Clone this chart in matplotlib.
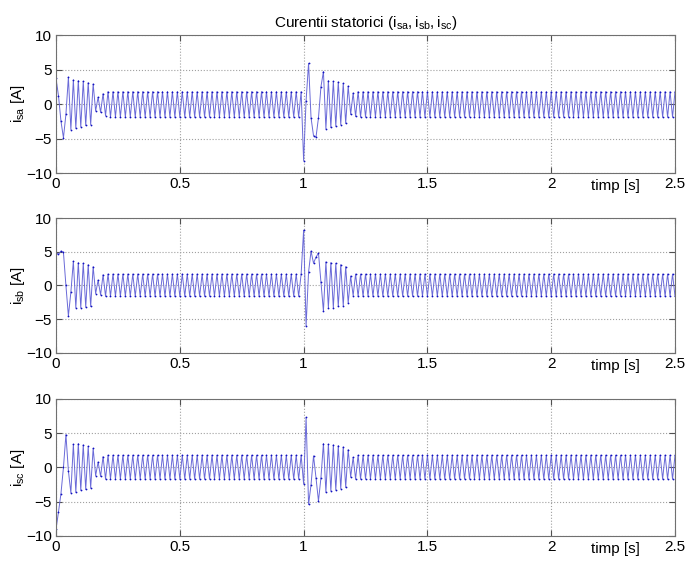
import numpy as np
import matplotlib
matplotlib.use("Agg")
import matplotlib.pyplot as plt

plt.rcParams['font.family'] = ['Liberation Sans', 'DejaVu Sans']
plt.rcParams['mathtext.fontset'] = 'custom'
plt.rcParams['mathtext.rm'] = 'Liberation Sans'
plt.rcParams['mathtext.it'] = 'Liberation Sans'

# time of each half-period extreme (0.01 s grid, 50 Hz)
t_ext = np.arange(251) * 0.01

# i_sa extremes, one value per 0.01 s
i_sa = [
    3.7, 1.2, -2.5, -4.9, -1.5, 3.9, -3.7, 3.5, -3.5, 3.4,
    -3.3, 3.3, -3.1, 3.1, -3.0, 2.9, -1.0, 1.0, -1.2, 1.5,
    -1.7, 1.8, -1.9, 1.8, -1.9, 1.8, -1.9, 1.8, -1.9, 1.8,
    -1.9, 1.8, -1.9, 1.8, -1.9, 1.8, -1.9, 1.8, -1.9, 1.8,
    -1.9, 1.8, -1.9, 1.8, -1.9, 1.8, -1.9, 1.8, -1.9, 1.8,
    -1.9, 1.8, -1.9, 1.8, -1.9, 1.8, -1.9, 1.8, -1.9, 1.8,
    -1.9, 1.8, -1.9, 1.8, -1.9, 1.8, -1.9, 1.8, -1.9, 1.8,
    -1.9, 1.8, -1.9, 1.8, -1.9, 1.8, -1.9, 1.8, -1.9, 1.8,
    -1.9, 1.8, -1.9, 1.8, -1.9, 1.8, -1.9, 1.8, -1.9, 1.8,
    -1.9, 1.8, -1.9, 1.8, -1.9, 1.8, -1.9, 1.8, -1.9, 1.8,
    -8.2, 0.5, 5.9, -2.0, -4.6, -4.8, -2.0, 2.5, 4.7, -3.6,
    3.4, -3.4, 3.3, -3.2, 3.2, -3.0, 3.0, -2.8, 2.6, -1.5,
    1.6, -1.8, 1.8, -1.9, 1.8, -1.9, 1.8, -1.9, 1.8, -1.9,
    1.8, -1.9, 1.8, -1.9, 1.8, -1.9, 1.8, -1.9, 1.8, -1.9,
    1.8, -1.9, 1.8, -1.9, 1.8, -1.9, 1.8, -1.9, 1.8, -1.9,
    1.8, -1.9, 1.8, -1.9, 1.8, -1.9, 1.8, -1.9, 1.8, -1.9,
    1.8, -1.9, 1.8, -1.9, 1.8, -1.9, 1.8, -1.9, 1.8, -1.9,
    1.8, -1.9, 1.8, -1.9, 1.8, -1.9, 1.8, -1.9, 1.8, -1.9,
    1.8, -1.9, 1.8, -1.9, 1.8, -1.9, 1.8, -1.9, 1.8, -1.9,
    1.8, -1.9, 1.8, -1.9, 1.8, -1.9, 1.8, -1.9, 1.8, -1.9,
    1.8, -1.9, 1.8, -1.9, 1.8, -1.9, 1.8, -1.9, 1.8, -1.9,
    1.8, -1.9, 1.8, -1.9, 1.8, -1.9, 1.8, -1.9, 1.8, -1.9,
    1.8, -1.9, 1.8, -1.9, 1.8, -1.9, 1.8, -1.9, 1.8, -1.9,
    1.8, -1.9, 1.8, -1.9, 1.8, -1.9, 1.8, -1.9, 1.8, -1.9,
    1.8, -1.9, 1.8, -1.9, 1.8, -1.9, 1.8, -1.9, 1.8, -1.9,
    1.8,
]

i_sb = [
    4.8, 4.6, 5.1, 4.9, 0.0, -4.5, -1.0, 3.6, -3.3, 3.4,
    -3.3, 3.3, -3.2, 3.1, -3.1, 2.8, -1.2, 0.8, -1.4, 1.6,
    -1.6, 1.7, -1.6, 1.7, -1.6, 1.7, -1.6, 1.7, -1.6, 1.7,
    -1.6, 1.7, -1.6, 1.7, -1.6, 1.7, -1.6, 1.7, -1.6, 1.7,
    -1.6, 1.7, -1.6, 1.7, -1.6, 1.7, -1.6, 1.7, -1.6, 1.7,
    -1.6, 1.7, -1.6, 1.7, -1.6, 1.7, -1.6, 1.7, -1.6, 1.7,
    -1.6, 1.7, -1.6, 1.7, -1.6, 1.7, -1.6, 1.7, -1.6, 1.7,
    -1.6, 1.7, -1.6, 1.7, -1.6, 1.7, -1.6, 1.7, -1.6, 1.7,
    -1.6, 1.7, -1.6, 1.7, -1.6, 1.7, -1.6, 1.7, -1.6, 1.7,
    -1.6, 1.7, -1.6, 1.7, -1.6, 1.7, -1.6, 1.7, -1.6, 1.7,
    8.2, -6.0, 2.0, 5.1, 3.3, 4.2, 4.8, 0.5, -3.8, 3.5,
    -3.3, 3.4, -3.3, 3.3, -3.1, 3.1, -3.0, 2.8, -2.6, 1.4,
    -1.5, 1.7, -1.6, 1.7, -1.6, 1.7, -1.6, 1.7, -1.6, 1.7,
    -1.6, 1.7, -1.6, 1.7, -1.6, 1.7, -1.6, 1.7, -1.6, 1.7,
    -1.6, 1.7, -1.6, 1.7, -1.6, 1.7, -1.6, 1.7, -1.6, 1.7,
    -1.6, 1.7, -1.6, 1.7, -1.6, 1.7, -1.6, 1.7, -1.6, 1.7,
    -1.6, 1.7, -1.6, 1.7, -1.6, 1.7, -1.6, 1.7, -1.6, 1.7,
    -1.6, 1.7, -1.6, 1.7, -1.6, 1.7, -1.6, 1.7, -1.6, 1.7,
    -1.6, 1.7, -1.6, 1.7, -1.6, 1.7, -1.6, 1.7, -1.6, 1.7,
    -1.6, 1.7, -1.6, 1.7, -1.6, 1.7, -1.6, 1.7, -1.6, 1.7,
    -1.6, 1.7, -1.6, 1.7, -1.6, 1.7, -1.6, 1.7, -1.6, 1.7,
    -1.6, 1.7, -1.6, 1.7, -1.6, 1.7, -1.6, 1.7, -1.6, 1.7,
    -1.6, 1.7, -1.6, 1.7, -1.6, 1.7, -1.6, 1.7, -1.6, 1.7,
    -1.6, 1.7, -1.6, 1.7, -1.6, 1.7, -1.6, 1.7, -1.6, 1.7,
    -1.6, 1.7, -1.6, 1.7, -1.6, 1.7, -1.6, 1.7, -1.6, 1.7,
    -1.6,
]

i_sc = [
    -9.0, -6.5, -3.8, 0.0, 4.8, -0.5, -3.7, 3.4, -3.6, 3.5,
    -3.3, 3.3, -3.2, 3.1, -3.0, 2.8, -1.2, 0.8, -1.3, 1.6,
    -1.7, 1.8, -1.7, 1.8, -1.7, 1.8, -1.7, 1.8, -1.7, 1.8,
    -1.7, 1.8, -1.7, 1.8, -1.7, 1.8, -1.7, 1.8, -1.7, 1.8,
    -1.7, 1.8, -1.7, 1.8, -1.7, 1.8, -1.7, 1.8, -1.7, 1.8,
    -1.7, 1.8, -1.7, 1.8, -1.7, 1.8, -1.7, 1.8, -1.7, 1.8,
    -1.7, 1.8, -1.7, 1.8, -1.7, 1.8, -1.7, 1.8, -1.7, 1.8,
    -1.7, 1.8, -1.7, 1.8, -1.7, 1.8, -1.7, 1.8, -1.7, 1.8,
    -1.7, 1.8, -1.7, 1.8, -1.7, 1.8, -1.7, 1.8, -1.7, 1.8,
    -1.7, 1.8, -1.7, 1.8, -1.7, 1.8, -1.7, 1.8, -1.7, 1.8,
    -2.4, 7.3, -5.4, -2.5, 1.7, -1.5, -4.9, -1.5, 3.5, -3.6,
    3.4, -3.4, 3.3, -3.3, 3.2, -3.1, 3.0, -2.9, 2.6, -1.4,
    1.5, -1.7, 1.8, -1.7, 1.8, -1.7, 1.8, -1.7, 1.8, -1.7,
    1.8, -1.7, 1.8, -1.7, 1.8, -1.7, 1.8, -1.7, 1.8, -1.7,
    1.8, -1.7, 1.8, -1.7, 1.8, -1.7, 1.8, -1.7, 1.8, -1.7,
    1.8, -1.7, 1.8, -1.7, 1.8, -1.7, 1.8, -1.7, 1.8, -1.7,
    1.8, -1.7, 1.8, -1.7, 1.8, -1.7, 1.8, -1.7, 1.8, -1.7,
    1.8, -1.7, 1.8, -1.7, 1.8, -1.7, 1.8, -1.7, 1.8, -1.7,
    1.8, -1.7, 1.8, -1.7, 1.8, -1.7, 1.8, -1.7, 1.8, -1.7,
    1.8, -1.7, 1.8, -1.7, 1.8, -1.7, 1.8, -1.7, 1.8, -1.7,
    1.8, -1.7, 1.8, -1.7, 1.8, -1.7, 1.8, -1.7, 1.8, -1.7,
    1.8, -1.7, 1.8, -1.7, 1.8, -1.7, 1.8, -1.7, 1.8, -1.7,
    1.8, -1.7, 1.8, -1.7, 1.8, -1.7, 1.8, -1.7, 1.8, -1.7,
    1.8, -1.7, 1.8, -1.7, 1.8, -1.7, 1.8, -1.7, 1.8, -1.7,
    1.8, -1.7, 1.8, -1.7, 1.8, -1.7, 1.8, -1.7, 1.8, -1.7,
    1.8,
]

currents = [i_sa, i_sb, i_sc]
ylabels = [r'$\mathregular{i_{sa}}$ [A]', r'$\mathregular{i_{sb}}$ [A]', r'$\mathregular{i_{sc}}$ [A]']
x_ticks = [0, 0.5, 1, 1.5, 2, 2.5]
x_ticklabels = ['0', '0.5', '1', '1.5', '2', '2.5']
y_ticks = [-10, -5, 0, 5, 10]

fig = plt.figure(figsize=(6.89, 5.61), dpi=100)
# axes boxes (left, bottom, width, height) in figure fractions
boxes = [(0.0813, 0.6916, 0.8984, 0.2460),
         (0.0813, 0.3708, 0.8984, 0.2406),
         (0.0813, 0.0446, 0.8984, 0.2442)]

for k in range(3):
    ax = fig.add_axes(boxes[k])
    ax.plot(t_ext, currents[k], color='#6a6ad8', linewidth=0.7)
    # darker dots where the trace turns
    ax.plot(t_ext, currents[k], linestyle='none', marker='o', markersize=1.3,
            markeredgewidth=0, color='#1010c0')
    ax.set_xlim(0, 2.5)
    ax.set_ylim(-10, 10)
    ax.set_xticks(x_ticks)
    ax.set_xticklabels(x_ticklabels)
    ax.set_yticks(y_ticks)
    ax.grid(True, linestyle=':', color='#a0a0a0', linewidth=0.8)
    ax.tick_params(direction='in', length=4, top=True, right=True,
                   labelsize=11, color='#505050', pad=3)
    for s in ax.spines.values():
        s.set_color('#707070')
        s.set_linewidth(0.8)
    ax.set_ylabel(ylabels[k], fontsize=11)
    ax.yaxis.set_label_coords(-0.047, 0.5)
    ax.set_xlabel('timp [s]', fontsize=11, va='center')
    ax.xaxis.set_label_coords(0.903, -0.095)
    if k == 0:
        ax.set_title(r'Curentii statorici ($\mathregular{i_{sa}, i_{sb}, i_{sc}}$)',
                     fontsize=11, pad=6)

fig.savefig('out.png', dpi=100)
